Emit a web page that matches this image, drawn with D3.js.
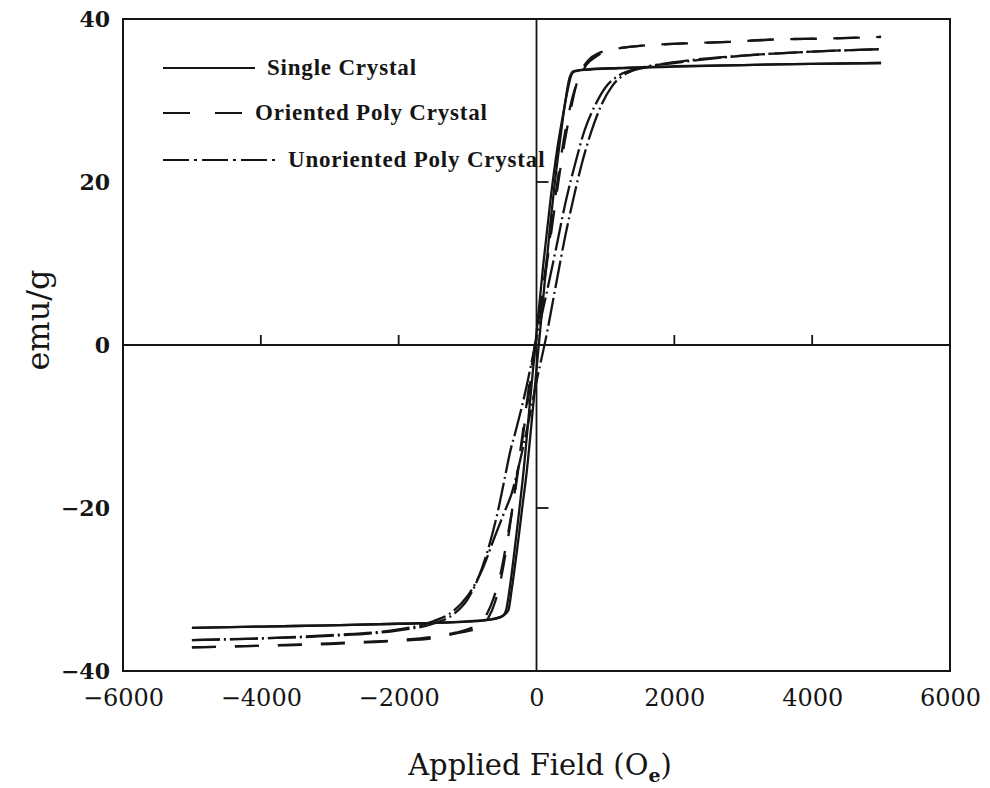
<!DOCTYPE html>
<html>
<head>
<meta charset="utf-8">
<script src="https://cdn.jsdelivr.net/npm/d3@7"></script>
<style>
  html, body { margin: 0; padding: 0; background: #ffffff; }
  svg { display: block; }
</style>
</head>
<body>
<svg id="chart" width="990" height="788"></svg>
<script>
// ---------------- DATA ----------------
const xTicks = [-6000, -4000, -2000, 0, 2000, 4000, 6000];
const yTicks = [-40, -20, 0, 20, 40];
const innerXTicks = [-4000, -2000, 2000, 4000];
const innerYTicks = [-20, 20];

const seriesNames = ["Single Crystal", "Oriented Poly Crystal", "Unoriented Poly Crystal"];

// Single crystal (solid) – descending and ascending branches [H (Oe), M (emu/g)]
const singleDesc = [
  [5000,34.6],[4000,34.5],[3000,34.35],[2000,34.15],[1200,33.95],[700,33.75],[540,33.5],[500,33.0],
  [450,31.2],[380,28],[300,24],[203,17.8],[100,10],[0,1.5],[-100,-7.5],[-200,-16.5],[-260,-21],
  [-330,-26],[-400,-30.5],[-440,-32.5],[-500,-33.3],[-700,-33.7],[-1000,-33.9],[-2000,-34.2],
  [-3000,-34.4],[-4000,-34.55],[-5000,-34.7]
];
const singleAsc = [
  [-5000,-34.7],[-4000,-34.55],[-3000,-34.4],[-2000,-34.2],[-1000,-33.95],[-600,-33.6],[-450,-33.0],
  [-406,-32.5],[-360,-30],[-280,-25],[-200,-19.5],[-145,-15.8],[-60,-8.5],[0,-3],[100,6],[200,14.8],
  [260,19.5],[340,25],[420,30],[480,32.8],[540,33.6],[700,33.8],[1200,34.0],[2000,34.2],
  [3000,34.35],[4000,34.5],[5000,34.6]
];

// Oriented poly crystal (dashed)
const orientedDesc = [
  [5000,37.8],[4200,37.6],[3500,37.5],[2800,37.2],[2150,37.0],[1500,36.7],[1000,36.0],[850,35.3],
  [725,34.4],[640,33],[560,31.5],[470,28.5],[392,25],[300,19.8],[200,13.5],[100,7.5],[0,1.5],
  [-100,-4.5],[-200,-10.8],[-300,-17],[-400,-23],[-500,-28],[-600,-31.5],[-700,-33.5],[-810,-34.6],
  [-1000,-35.1],[-1180,-35.4],[-1500,-36.0],[-2000,-36.3],[-2500,-36.5],[-3000,-36.7],[-4000,-36.9],
  [-5000,-37.1]
];
const orientedAsc = [
  [-5000,-37.1],[-4000,-36.9],[-3000,-36.6],[-2000,-36.2],[-1500,-35.8],[-1180,-35.3],[-1000,-34.9],
  [-840,-34.2],[-720,-33],[-620,-31],[-520,-28],[-420,-23.5],[-320,-18.5],[-220,-12.5],[-120,-6.5],
  [0,1],[100,7],[200,13],[300,19],[400,24.5],[500,29],[580,32],[660,33.8],[760,35],[900,35.8],
  [1000,36.1],[1500,36.7],[2150,37.0],[2800,37.2],[3500,37.5],[4200,37.6],[5000,37.8]
];

// Unoriented poly crystal (dash-dot)
const unorientedDesc = [
  [5000,36.3],[4000,36.0],[3000,35.5],[2000,34.6],[1500,34.0],[1200,33.1],[1000,31.6],[850,29.4],
  [700,26.4],[560,22.2],[435,18],[280,11.7],[150,6.5],[0,0.8],[-150,-5.3],[-300,-10.5],[-377,-12.9],
  [-460,-16.3],[-550,-20],[-700,-25],[-850,-28.7],[-1000,-31.2],[-1200,-33.0],[-1500,-34.2],
  [-2000,-35.0],[-3000,-35.7],[-4000,-36.0],[-5000,-36.2]
];
const unorientedAsc = [
  [-5000,-36.2],[-4000,-36.0],[-3000,-35.6],[-2000,-34.9],[-1500,-33.9],[-1200,-32.6],[-1000,-30.8],
  [-800,-27.8],[-600,-23.4],[-480,-20.8],[-360,-18.2],[-250,-14.6],[-120,-9.6],[0,-4.5],[150,1.4],
  [300,8.2],[420,13.5],[537,18],[650,22],[800,26.3],[950,29.6],[1100,31.8],[1300,33.3],[1600,34.1],
  [2000,34.7],[3000,35.5],[4000,36.0],[5000,36.3]
];

// ---------------- CHART ----------------
const svg = d3.select("#chart");
const pL = 123, pR = 950, pT = 19, pB = 671;
const x = d3.scaleLinear().domain([-6000, 6000]).range([pL, pR]);
const y = d3.scaleLinear().domain([-40, 40]).range([pB, pT]);
const ink = "#151515";

const styles = [
  { dash: null, width: 2.3 },
  { dash: "24,19", width: 2.3 },
  { dash: "28,4,2,4", width: 2.3 }
];
const series = [
  [singleDesc, singleAsc],
  [orientedDesc, orientedAsc],
  [unorientedDesc, unorientedAsc]
];

// frame
svg.append("rect")
  .attr("x", pL).attr("y", pT)
  .attr("width", pR - pL).attr("height", pB - pT)
  .attr("fill", "none").attr("stroke", ink).attr("stroke-width", 2);

// zero lines
svg.append("line").attr("x1", pL).attr("x2", pR).attr("y1", y(0)).attr("y2", y(0))
  .attr("stroke", ink).attr("stroke-width", 2);
svg.append("line").attr("x1", x(0)).attr("x2", x(0)).attr("y1", pT).attr("y2", pB)
  .attr("stroke", ink).attr("stroke-width", 1.8);

// inner ticks on zero lines
svg.selectAll(".ixt").data(innerXTicks).enter().append("line")
  .attr("x1", d => x(d)).attr("x2", d => x(d))
  .attr("y1", y(0)).attr("y2", y(0) - 10)
  .attr("stroke", ink).attr("stroke-width", 1.8);
svg.selectAll(".iyt").data(innerYTicks).enter().append("line")
  .attr("x1", x(0)).attr("x2", x(0) + 12)
  .attr("y1", d => y(d)).attr("y2", d => y(d))
  .attr("stroke", ink).attr("stroke-width", 1.8);

// axes labels via d3.axis
const fmt = d => (d < 0 ? "\u2212" + Math.abs(d) : String(d));
const xAxis = svg.append("g").attr("transform", `translate(0,${pB})`)
  .call(d3.axisBottom(x).tickValues(xTicks).tickSize(0).tickPadding(18).tickFormat(fmt));
xAxis.select(".domain").remove();
xAxis.selectAll("text")
  .attr("font-family", "DejaVu Serif").attr("font-size", 24).attr("fill", ink);

const yAxis = svg.append("g").attr("transform", `translate(${pL},0)`)
  .call(d3.axisLeft(y).tickValues(yTicks).tickSize(0).tickPadding(13).tickFormat(fmt));
yAxis.select(".domain").remove();
yAxis.selectAll("text")
  .attr("font-family", "DejaVu Serif").attr("font-weight", "bold")
  .attr("font-size", 22).attr("fill", ink);

// curves
const line = d3.line().x(d => x(d[0])).y(d => y(d[1])).curve(d3.curveMonotoneX);
series.forEach((branches, i) => {
  branches.forEach(b => {
    const pts = b.slice().sort((a, c) => a[0] - c[0]);
    svg.append("path").datum(pts)
      .attr("d", line)
      .attr("fill", "none")
      .attr("stroke", ink)
      .attr("stroke-width", styles[i].width)
      .attr("stroke-dasharray", styles[i].dash)
      .attr("stroke-linejoin", "round");
  });
});

// legend
const legendRows = [
  { x1: 163, x2: 255, y: 68, tx: 267, dash: null },
  { x1: 163, x2: 243, y: 113, tx: 255, dash: "27,25" },
  { x1: 163, x2: 275, y: 160, tx: 288, dash: "26,5,3,5" }
];
legendRows.forEach((r, i) => {
  svg.append("line").attr("x1", r.x1).attr("x2", r.x2).attr("y1", r.y).attr("y2", r.y)
    .attr("stroke", ink).attr("stroke-width", 2).attr("stroke-dasharray", r.dash);
  svg.append("text").attr("x", r.tx).attr("y", r.y + 7)
    .attr("font-family", "Liberation Serif").attr("font-weight", "bold")
    .attr("font-size", 23).attr("letter-spacing", 0.8).attr("fill", ink)
    .text(seriesNames[i]);
});

// axis titles
const xt = svg.append("text").attr("x", 540).attr("y", 775)
  .attr("text-anchor", "middle")
  .attr("font-family", "DejaVu Serif").attr("font-size", 29).attr("fill", ink);
xt.append("tspan").text("Applied Field (O");
xt.append("tspan").attr("dy", 7).attr("font-size", 19).attr("font-weight", "bold").text("e");
xt.append("tspan").attr("dy", -7).text(")");

svg.append("text")
  .attr("transform", "translate(49,320) rotate(-90)")
  .attr("text-anchor", "middle")
  .attr("font-family", "DejaVu Serif").attr("font-size", 32).attr("fill", ink)
  .text("emu/g");
</script>
</body>
</html>
